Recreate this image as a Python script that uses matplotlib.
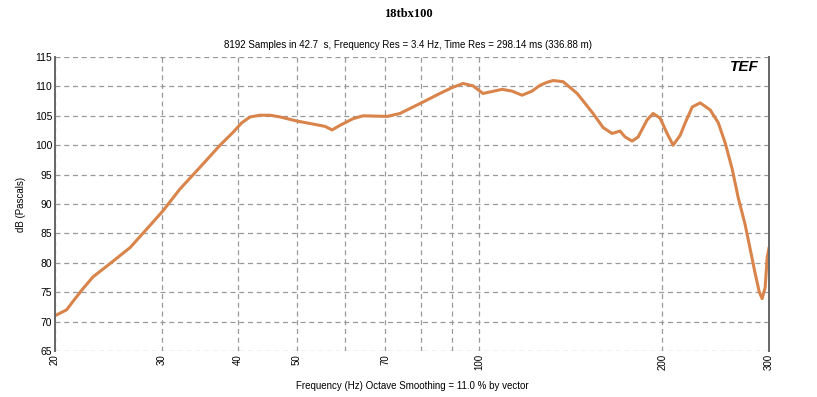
import numpy as np
import matplotlib
matplotlib.use("Agg")
import matplotlib.pyplot as plt

# response
freq = [20.0, 20.9, 21.4, 22.2, 23.1, 24.6, 26.6, 28.7, 30.1, 32.1, 34.7, 37.4,
        39.3, 40.6, 41.9, 43.5, 45.2, 47.0, 50.1, 53.2, 55.7, 57.2, 59.0, 61.9,
        64.3, 70.5, 74.0, 79.9, 86.1, 90.2, 94.0, 97.6, 101.4, 109.0, 113.2,
        117.6, 122.1, 125.9, 129.3, 132.3, 137.4, 141.1, 144.9, 148.3, 153.9,
        159.9, 165.4, 170.5, 173.8, 178.5, 182.6, 188.9, 193.3, 198.5, 203.8,
        208.5, 214.2, 218.3, 224.2, 231.0, 240.0, 247.5, 254.0, 260.8, 267.0,
        274.0, 279.2, 284.6, 289.0, 292.2, 295.6, 297.9, 300.0]
db = [71.0, 72.0, 73.4, 75.5, 77.6, 79.8, 82.6, 86.4, 88.8, 92.5, 96.3, 100.0,
      102.2, 103.8, 104.8, 105.1, 105.1, 104.8, 104.1, 103.6, 103.2, 102.6, 103.4,
      104.5, 105.0, 104.9, 105.4, 107.1, 108.8, 109.8, 110.5, 110.1, 108.8, 109.5,
      109.2, 108.5, 109.2, 110.2, 110.7, 111.0, 110.8, 109.8, 108.8, 107.5, 105.4,
      103.0, 102.0, 102.4, 101.4, 100.7, 101.4, 104.3, 105.4, 104.6, 102.0,
      100.0, 101.7, 103.8, 106.5, 107.2, 106.0, 103.8, 100.4, 96.0, 91.0,
      86.5, 82.4, 78.2, 75.1, 73.9, 75.8, 80.9, 82.6]

xticks = [20, 30, 40, 50, 70, 100, 200, 300]
xgrid = [20, 30, 40, 50, 60, 70, 80, 90, 100, 200, 300]
yticks = list(range(65, 116, 5))

plt.rcParams['font.family'] = ['Liberation Sans', 'DejaVu Sans']

fig = plt.figure(figsize=(8.17, 3.97), dpi=100)
ax = fig.add_axes([0.0673, 0.1159, 0.874, 0.7405])

ax.plot(freq, db, color='#d9844a', lw=2.2, solid_joinstyle='round',
        solid_capstyle='round')

ax.set_xscale('log')
ax.set_xlim(20, 300)
ax.set_ylim(65, 115)
ax.set_xticks(xticks)
ax.set_xticklabels([str(t) for t in xticks], rotation=90, fontsize=7)
ax.xaxis.set_minor_locator(matplotlib.ticker.NullLocator())
ax.set_yticks(yticks)
ax.tick_params(axis='y', labelsize=7.5, length=0, pad=2)
ax.tick_params(axis='x', length=0, pad=2)

for g in xgrid:
    ax.axvline(g, color='#999999', ls=(0, (4, 3)), lw=0.9, zorder=0)
for g in yticks:
    ax.axhline(g, color='#999999', ls=(0, (4, 3)), lw=0.9, zorder=0)

for s in ['top', 'bottom']:
    ax.spines[s].set_visible(False)
for s in ['left', 'right']:
    ax.spines[s].set_color('#666666')
    ax.spines[s].set_linewidth(1.4)

ax.set_xlabel('Frequency (Hz) Octave Smoothing = 11.0 % by vector', fontsize=7, labelpad=8)
ax.set_ylabel('dB (Pascals)', fontsize=7, labelpad=6)

fig.text(0.5, 0.965, '18tbx100', ha='center', va='center', fontsize=9,
         fontweight='bold', family='Liberation Serif')
fig.text(0.5, 0.887, '8192 Samples in 42.7  s, Frequency Res = 3.4 Hz, Time Res = 298.14 ms (336.88 m)',
         ha='center', va='center', fontsize=7)
ax.text(0.985, 0.965, 'TEF', transform=ax.transAxes, ha='right', va='center',
        fontsize=11, fontweight='heavy', style='italic')

fig.savefig('out.png', dpi=100)
